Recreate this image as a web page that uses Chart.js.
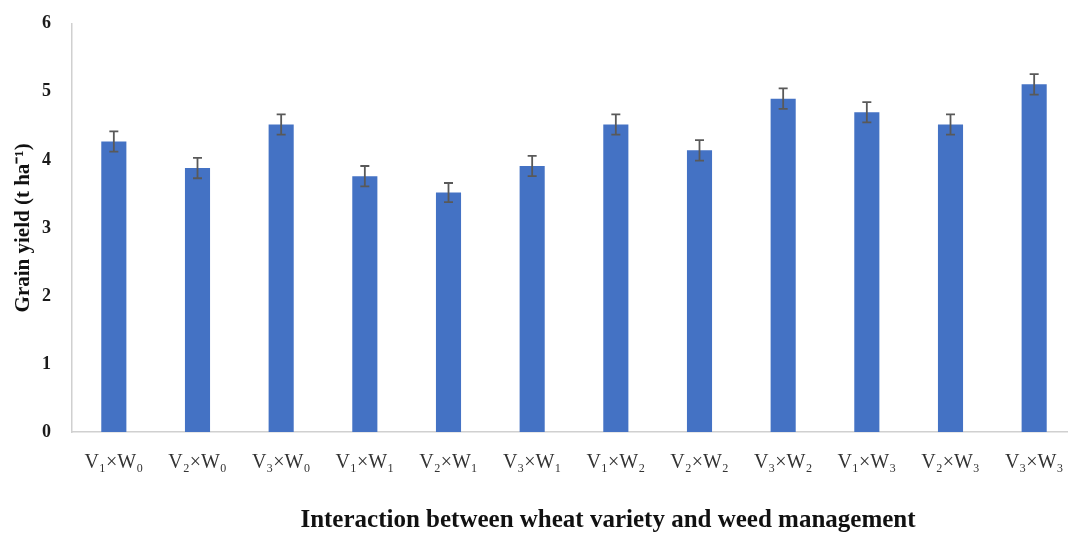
<!DOCTYPE html>
<html>
<head>
<meta charset="utf-8">
<script src="https://cdn.jsdelivr.net/npm/chart.js@4"></script>
<style>
  body { margin: 0; background: #fff; overflow: hidden; }
  .graph-wrap { width: 1080px; height: 537px; }
</style>
</head>
<body>
<div class="graph-wrap"><canvas class="graph"></canvas></div>
<script>
const treatments = ['V₁×W₀', 'V₂×W₀', 'V₃×W₀', 'V₁×W₁', 'V₂×W₁', 'V₃×W₁',
    'V₁×W₂', 'V₂×W₂', 'V₃×W₂', 'V₁×W₃', 'V₂×W₃', 'V₃×W₃']
const grainYield = [4.27, 3.88, 4.52, 3.76, 3.52, 3.91, 4.52, 4.14, 4.90, 4.70, 4.52, 5.11]
const yieldErr = [0.15, 0.15, 0.15, 0.15, 0.14, 0.15, 0.15, 0.15, 0.15, 0.15, 0.15, 0.15]
const yTicks = [0, 1, 2, 3, 4, 5, 6]

const serif = '"Liberation Serif", "Times New Roman", serif'

// whiskers drawn from the y scale, caps about 9px wide
const errorBars = {
    id: 'errorBars',
    afterDatasetsDraw(chart) {
        const ctx = chart.ctx
        const y = chart.scales.y
        const bars = chart.getDatasetMeta(0).data
        ctx.save()
        ctx.strokeStyle = '#595959'
        ctx.lineWidth = 1.8
        bars.forEach((bar, i) => {
            const top = y.getPixelForValue(grainYield[i] + yieldErr[i])
            const bot = y.getPixelForValue(grainYield[i] - yieldErr[i])
            ctx.beginPath()
            ctx.moveTo(bar.x, top); ctx.lineTo(bar.x, bot)
            ctx.moveTo(bar.x - 4.5, top); ctx.lineTo(bar.x + 4.5, top)
            ctx.moveTo(bar.x - 4.5, bot); ctx.lineTo(bar.x + 4.5, bot)
            ctx.stroke()
        })
        ctx.restore()
    },
}

// x title sits a little right of the plot centre in the original
const xTitle = {
    id: 'xTitle',
    afterDraw(chart) {
        const ctx = chart.ctx
        const area = chart.chartArea
        ctx.save()
        ctx.font = 'bold 25px ' + serif
        ctx.fillStyle = '#111'
        ctx.textAlign = 'center'
        ctx.textBaseline = 'middle'
        ctx.fillText('Interaction between wheat variety and weed management',
            (area.left + area.right) / 2 + 34, 521)
        ctx.restore()
    },
}

const ctx = document.querySelector('.graph').getContext('2d')
const chart = new Chart(ctx, {
    type: 'bar',
    data: {
        labels: treatments,
        datasets: [
            {
                label: 'Grain yield',
                data: grainYield,
                backgroundColor: '#4472C4',
                barPercentage: 0.3,
                categoryPercentage: 1,
            },
        ],
    },
    plugins: [errorBars, xTitle],
    options: {
        maintainAspectRatio: false,
        responsive: true,
        animation: false,
        layout: { padding: { top: 10, right: 4, left: 0, bottom: 0 } },
        plugins: {
            legend: { display: false },
            tooltip: { enabled: false },
        },
        scales: {
            x: {
                grid: { display: false },
                border: { color: '#d0d0d0', width: 1.5 },
                ticks: {
                    padding: 11,
                    color: '#333',
                    font: { family: serif, size: 20 },
                    maxRotation: 0,
                },
                afterFit(scale) { scale.height = 105 },
            },
            y: {
                min: 0,
                max: 6,
                afterBuildTicks(scale) {
                    scale.ticks = yTicks.map(v => ({ value: v }))
                },
                grid: { display: false },
                border: { color: '#d0d0d0', width: 1.5 },
                ticks: {
                    padding: 13,
                    color: '#1a1a1a',
                    font: { family: serif, size: 18, weight: 'bold' },
                },
                title: {
                    display: true,
                    text: 'Grain yield (t ha⁻¹)',
                    color: '#111',
                    font: { family: serif, size: 21, weight: 'bold' },
                    padding: { top: 11, bottom: 0 },
                },
                afterFit(scale) { scale.width = 72 },
            },
        },
    },
})
</script>
</body>
</html>
